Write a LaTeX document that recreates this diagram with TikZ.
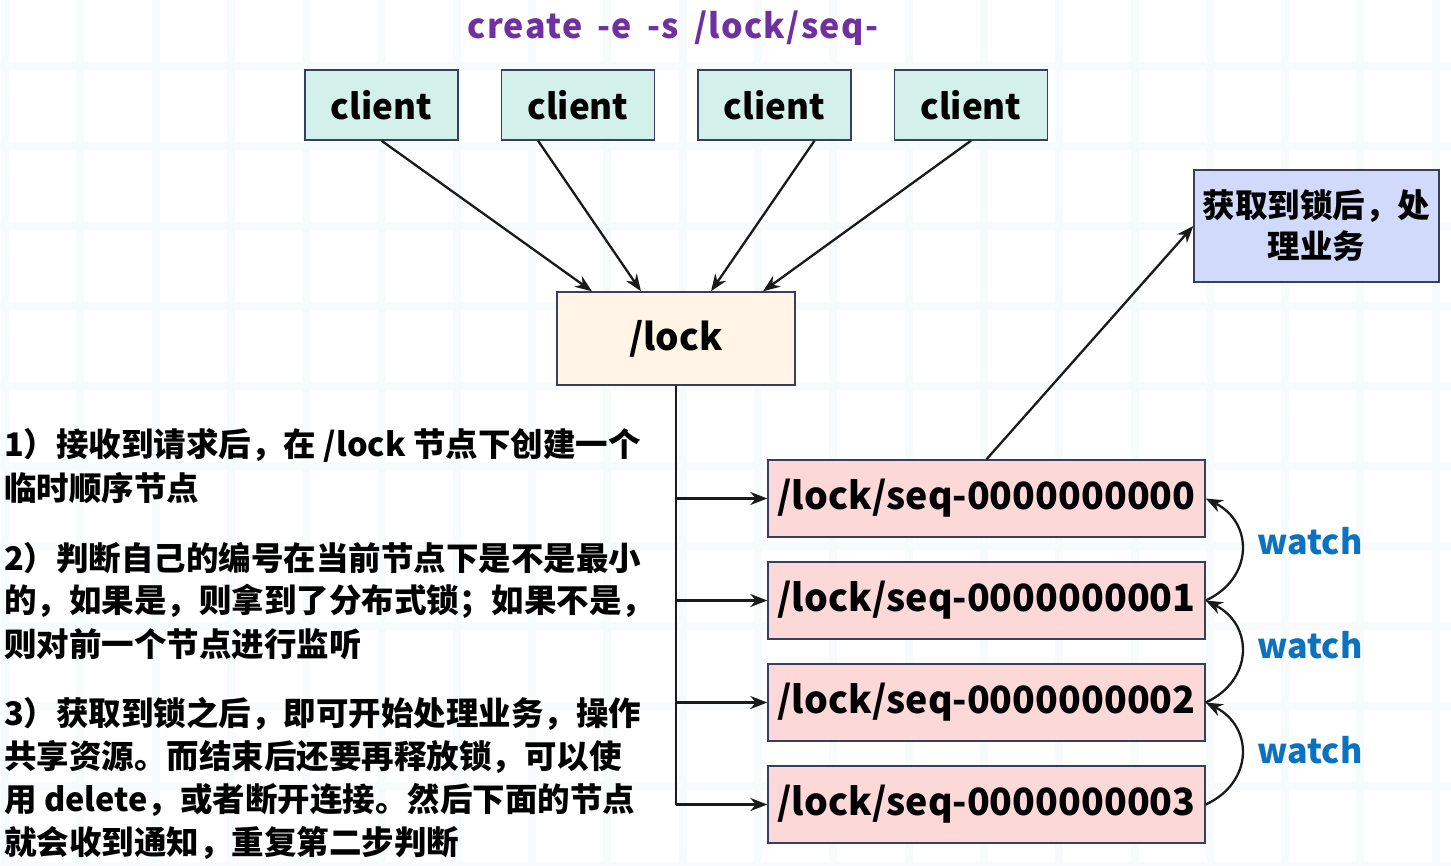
\documentclass[tikz,border=0pt]{standalone}
\usepackage{fontspec}
\setmainfont{Noto Sans CJK SC}
\newfontfamily\widefont{Noto Sans CJK SC}[LetterSpace=4]
\usetikzlibrary{arrows.meta}
\definecolor{clientfill}{HTML}{D3F1EA}
\definecolor{lockfill}{HTML}{FFF4E6}
\definecolor{seqfill}{HTML}{FCD8D8}
\definecolor{bizfill}{HTML}{D2DAFC}
\definecolor{boxline}{HTML}{34405E}
\definecolor{titlepurple}{HTML}{7030A0}
\definecolor{watchblue}{HTML}{0A72C0}
\definecolor{gridband}{HTML}{F8FBFC}
\definecolor{arrowline}{HTML}{1A1A1A}
\begin{document}
\begin{tikzpicture}[x=1pt,y=-1pt,
  box/.style={draw=boxline,line width=1.4pt,inner sep=0pt,font=\bfseries},
  clientbox/.style={box,fill=clientfill,minimum width=153pt,minimum height=70pt,font=\fontsize{35}{40}\selectfont\bfseries},
  lockbox/.style={box,fill=lockfill,minimum width=238pt,minimum height=93pt,font=\fontsize{37}{44}\selectfont\bfseries},
  seqbox/.style={box,fill=seqfill,minimum width=437pt,minimum height=77pt,font=\fontsize{37.5}{44}\selectfont\bfseries},
  bizbox/.style={box,fill=bizfill,minimum width=245pt,minimum height=112pt,align=center,font=\fontsize{32.5}{41}\selectfont\bfseries},
  arr/.style={draw=arrowline,line width=2.3pt,-{Stealth[length=17pt,width=13pt]}},
  plain/.style={draw=arrowline,line width=2.3pt},
  watcharr/.style={draw=arrowline,line width=2.3pt,-{Stealth[length=17pt,width=13pt]}},
  watchlbl/.style={text=watchblue,font=\fontsize{34}{40}\selectfont\bfseries},
  note/.style={anchor=west,inner sep=0pt,font=\fontsize{32.5}{40}\selectfont\bfseries}
]
\useasboundingbox (0,0) rectangle (1451,866);
\fill[white] (0,0) rectangle (1451,866);
% faint background grid
\foreach \k in {0,...,19} {\fill[gridband] ({5+75.3*\k-4},0) rectangle ({5+75.3*\k+4},866);}
\foreach \k in {0,...,11} {\fill[gridband] (0,{-14+80*\k-4}) rectangle (1451,{-14+80*\k+4});}

% title
\node[text=titlepurple,font=\fontsize{34}{40}\widefont\bfseries] (title) at (673,28) {create\hspace{6pt} -e\hspace{6pt} -s\hspace{6pt} /lock/seq-};

% clients
\node[clientbox] (c1) at (381.5,105) {client};
\node[clientbox] (c2) at (578,105) {client};
\node[clientbox] (c3) at (774.5,105) {client};
\node[clientbox] (c4) at (971,105) {client};

% lock
\node[lockbox] (lock) at (676,338.5) {/lock};

% business box
\node[bizbox] (biz) at (1316.5,226) {获取到锁后，处\\理业务};

% seq nodes
\node[seqbox] (s0) at (986.5,498.5) {/lock/seq-0000000000};
\node[seqbox] (s1) at (986.5,600.5) {/lock/seq-0000000001};
\node[seqbox] (s2) at (986.5,702.5) {/lock/seq-0000000002};
\node[seqbox] (s3) at (986.5,804.5) {/lock/seq-0000000003};

% client arrows
\draw[arr] (c1.south) -- ([xshift=-84pt]lock.north);
\draw[arr] ([xshift=-40pt]c2.south) -- ([xshift=-35pt]lock.north);
\draw[arr] ([xshift=40pt]c3.south) -- ([xshift=35pt]lock.north);
\draw[arr] (c4.south) -- ([xshift=87pt]lock.north);

% trunk
\coordinate (trunkend) at (lock.south |- s3.west);
\draw[plain] (lock.south) -- (trunkend);
\draw[arr] (lock.south |- s0.west) -- (s0.west);
\draw[arr] (lock.south |- s1.west) -- (s1.west);
\draw[arr] (lock.south |- s2.west) -- (s2.west);
\draw[arr] (trunkend) -- (s3.west);

% to business
\draw[arr] (s0.north) -- (biz.west);

% watch arrows
\draw[watcharr] (s1.east) .. controls +(48,-22) and +(48,24) .. (s0.east);
\draw[watcharr] (s2.east) .. controls +(48,-22) and +(48,24) .. (s1.east);
\draw[watcharr] (s3.east) .. controls +(48,-22) and +(48,24) .. (s2.east);
\node[watchlbl] (w1) at (1310,541) {watch};
\node[watchlbl] (w2) at (1310,645) {watch};
\node[watchlbl] (w3) at (1310,750) {watch};

% notes
\node[note] (n1a) at (4,445) {1）接收到请求后，在 /lock 节点下创建一个};
\node[note] (n1b) at (4,488) {临时顺序节点};
\node[note] (n2a) at (4,558) {2）判断自己的编号在当前节点下是不是最小};
\node[note] (n2b) at (4,601) {的，如果是，则拿到了分布式锁；如果不是，};
\node[note] (n2c) at (4,644) {则对前一个节点进行监听};
\node[note] (n3a) at (4,714) {3）获取到锁之后，即可开始处理业务，操作};
\node[note] (n3b) at (4,757) {共享资源。而结束后还要再释放锁，可以使};
\node[note] (n3c) at (4,800) {用 delete，或者断开连接。然后下面的节点};
\node[note] (n3d) at (4,843) {就会收到通知，重复第二步判断};
\end{tikzpicture}
\end{document}
